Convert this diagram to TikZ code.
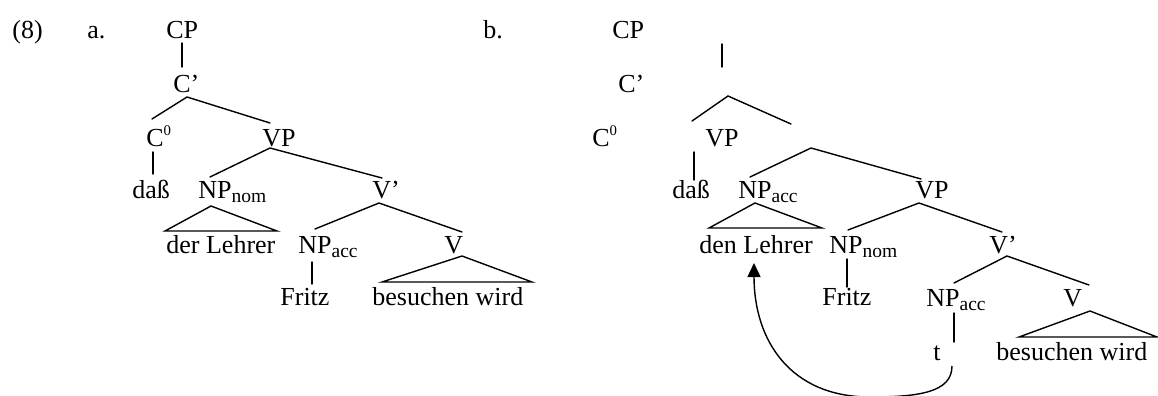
\documentclass[tikz,border=0pt]{standalone}
\usepackage{fontspec}
\setmainfont{Liberation Serif}
\usetikzlibrary{arrows.meta}
% small lowered index (NP_nom, NP_acc) and raised bar-level digit (C^0)
\newcommand\lsub[1]{\raisebox{-2pt}{\fontsize{9.75}{10}\selectfont #1}}
\newcommand\lsup[1]{\raisebox{5.2pt}{\fontsize{7.4}{8}\selectfont #1}}

\begin{document}
\begin{tikzpicture}[x=0.5pt,y=-0.5pt,
  lab/.style={anchor=base west, inner sep=0pt, font=\fontsize{13}{15}\selectfont},
  branch/.style={line width=0.7pt, line cap=round},
  move/.style={line width=0.7pt, -{Triangle[length=7pt,width=6.5pt]}}]
\useasboundingbox (0,0) rectangle (1158,396);

% ---------- example number ----------
\node[lab] (exnum) at (12,39) {(8)};

% ================= tree a =================
\node[lab] (alabel) at (87,39)  {a.};
\node[lab] (aCP)    at (166,39) {CP};
\node[lab] (aCb)    at (173,92) {C’};
\node[lab] (aC0)    at (146,146) {C\lsup{0}};
\node[lab] (aVP)    at (262,146) {VP};
\node[lab] (adass)  at (132,198) {daß};
\node[lab] (aNPn)   at (198,198) {NP\lsub{nom}};
\node[lab] (aVb)    at (372,198) {V’};
\node[lab] (aLehrer) at (166,253) {der Lehrer};
\node[lab] (aNPa)   at (298,253) {NP\lsub{acc}};
\node[lab] (aV)     at (444,253) {V};
\node[lab] (aFritz) at (280,305) {Fritz};
\node[lab] (averb)  at (372,305) {besuchen wird};

% branch end points
\coordinate (aCP-b)  at (182,43);
\coordinate (aCb-t)  at (182,67);
\coordinate (aCb-b)  at (187,97);
\coordinate (aC0-t)  at (152,119);
\coordinate (aVP-t)  at (270,123);
\coordinate (aC0-b)  at (153,152);
\coordinate (adass-t) at (153,174);
\coordinate (aVP-b)  at (270,148);
\coordinate (aNPn-t) at (210,177);
\coordinate (aVb-t)  at (382,178);
\coordinate (aNPn-b) at (211,206);
\coordinate (aLehrer-l) at (165,231);
\coordinate (aLehrer-r) at (277,231);
\coordinate (aVb-b)  at (379,203);
\coordinate (aNPa-t) at (315,229);
\coordinate (aV-t)   at (462,232);
\coordinate (aNPa-b) at (312,262);
\coordinate (aFritz-t) at (312,284);
\coordinate (aV-b)   at (462,256);
\coordinate (averb-l) at (382,282);
\coordinate (averb-r) at (532,282);

\draw[branch] (aCP-b) -- (aCb-t);
\draw[branch] (aC0-t) -- (aCb-b) -- (aVP-t);
\draw[branch] (aC0-b) -- (adass-t);
\draw[branch] (aNPn-t) -- (aVP-b) -- (aVb-t);
\draw[branch] (aLehrer-l) -- (aNPn-b) -- (aLehrer-r) -- cycle;
\draw[branch] (aNPa-t) -- (aVb-b) -- (aV-t);
\draw[branch] (aNPa-b) -- (aFritz-t);
\draw[branch] (averb-l) -- (aV-b) -- (averb-r) -- cycle;

% ================= tree b =================
\node[lab] (blabel) at (483,39)  {b.};
\node[lab] (bCP)    at (612,39)  {CP};
\node[lab] (bCb)    at (618,92)  {C’};
\node[lab] (bC0)    at (592,146) {C\lsup{0}};
\node[lab] (bVP)    at (705,146) {VP};
\node[lab] (bdass)  at (672,198) {daß};
\node[lab] (bNPa)   at (738,198) {NP\lsub{acc}};
\node[lab] (bVPl)   at (915,198) {VP};
\node[lab] (bLehrer) at (699,253) {den Lehrer};
\node[lab] (bNPn)   at (829,253) {NP\lsub{nom}};
\node[lab] (bVb)    at (989,253) {V’};
\node[lab] (bFritz) at (822,305) {Fritz};
\node[lab] (bNPt)   at (926,306) {NP\lsub{acc}};
\node[lab] (bV)     at (1063,306) {V};
\node[lab] (btrace) at (933,360) {t};
\node[lab] (bverb)  at (996,360) {besuchen wird};

% branch end points
\coordinate (bCP-b)  at (722,44);
\coordinate (bCb-t)  at (722,67);
\coordinate (bCb-b)  at (728,96);
\coordinate (bC0-t)  at (692,121);
\coordinate (bVP-t)  at (791,124);
\coordinate (bC0-b)  at (694,152);
\coordinate (bdass-t) at (694,180);
\coordinate (bVP-b)  at (811,148);
\coordinate (bNPa-t) at (750,177);
\coordinate (bVPl-t) at (921,179);
\coordinate (bNPa-b) at (755,203);
\coordinate (bLehrer-l) at (709,228);
\coordinate (bLehrer-r) at (822,228);
\coordinate (bVPl-b) at (919,203);
\coordinate (bNPn-t) at (848,230);
\coordinate (bVb-t)  at (1002,232);
\coordinate (bNPn-b) at (847,259);
\coordinate (bFritz-t) at (847,287);
\coordinate (bVb-b)  at (1007,256);
\coordinate (bNPt-t) at (954,283);
\coordinate (bV-t)   at (1089,285);
\coordinate (bNPt-b) at (954,313);
\coordinate (btrace-t) at (954,342);
\coordinate (bV-b)   at (1090,311);
\coordinate (bverb-l) at (1019,337);
\coordinate (bverb-r) at (1157,337);

\draw[branch] (bCP-b) -- (bCb-t);
\draw[branch] (bC0-t) -- (bCb-b) -- (bVP-t);
\draw[branch] (bC0-b) -- (bdass-t);
\draw[branch] (bNPa-t) -- (bVP-b) -- (bVPl-t);
\draw[branch] (bLehrer-l) -- (bNPa-b) -- (bLehrer-r) -- cycle;
\draw[branch] (bNPn-t) -- (bVPl-b) -- (bVb-t);
\draw[branch] (bNPn-b) -- (bFritz-t);
\draw[branch] (bNPt-t) -- (bVb-b) -- (bV-t);
\draw[branch] (bNPt-b) -- (btrace-t);
\draw[branch] (bverb-l) -- (bV-b) -- (bverb-r) -- cycle;

% movement of the object from the trace to den Lehrer
\coordinate (trace-foot)  at (952,366);
\coordinate (lehrer-foot) at (754,263);
\draw[move] (trace-foot) .. controls (952,392) and (920,397) .. (870,397)
            .. controls (790,397) and (754,340) .. (lehrer-foot);
\end{tikzpicture}
\end{document}
